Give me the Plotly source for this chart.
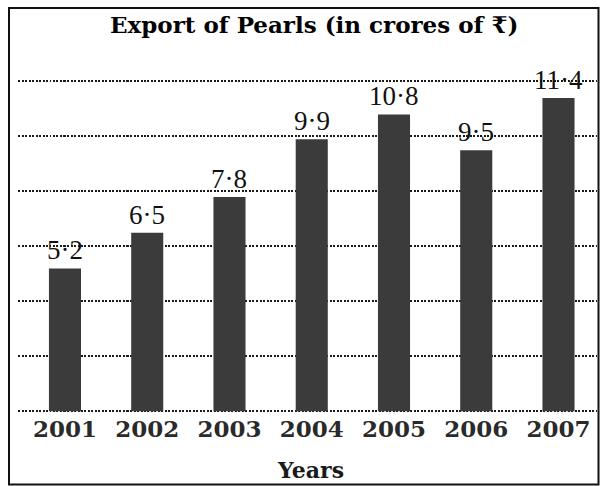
import plotly.graph_objects as go

# ---- data ----
years = [2001, 2002, 2003, 2004, 2005, 2006, 2007]
year_labels = ["2001", "2002", "2003", "2004", "2005", "2006", "2007"]
exports = [5.2, 6.5, 7.8, 9.9, 10.8, 9.5, 11.4]
value_labels = ["5·2", "6·5", "7·8", "9·9", "10·8", "9·5", "11·4"]
grid_vals = [0, 2, 4, 6, 8, 10, 12]
title_text = "Export of Pearls (in crores of ₹)"
xaxis_title = "Years"

W, H = 602, 486
L, R, T, B = 18, 5, 54, 73.35
pw, ph = W - L - R, H - T - B

def px_x(p):
    return (p - L) / pw

def px_y(p):
    return (H - B - p) / ph

fig = go.Figure()
fig.add_trace(go.Bar(
    x=years, y=exports, width=0.39,
    marker=dict(color="#3b3b3b", line=dict(width=0)),
    hoverinfo="skip", showlegend=False,
))

for xv, yv, lab in zip(years, exports, value_labels):
    fig.add_annotation(x=xv, y=yv, text=lab, showarrow=False,
                       xanchor="center", yanchor="bottom", yshift=1,
                       font=dict(family="Liberation Serif", size=27, color="#111111"))

# title
fig.add_annotation(xref="paper", yref="paper", x=px_x(314), y=px_y(25),
                   text="<b>" + title_text + "</b>", showarrow=False,
                   xanchor="center", yanchor="middle",
                   font=dict(family="DejaVu Serif", size=23, color="#000000"))
# x axis title
fig.add_annotation(xref="paper", yref="paper", x=px_x(311), y=px_y(470),
                   text="<b>" + xaxis_title + "</b>", showarrow=False,
                   xanchor="center", yanchor="middle",
                   font=dict(family="DejaVu Serif", size=22, color="#1a1a1a"))

# border
fig.add_shape(type="rect", xref="paper", yref="paper",
              x0=px_x(9), x1=px_x(598.5), y0=px_y(484), y1=px_y(8),
              line=dict(color="#111111", width=2), fillcolor="rgba(0,0,0,0)", layer="above")

fig.update_layout(
    width=W, height=H,
    margin=dict(l=L, r=R, t=T, b=B),
    paper_bgcolor="white", plot_bgcolor="white",
    xaxis=dict(range=[2000.429, 2007.468], tickvals=years,
               ticktext=["<b>" + s + "</b>" for s in year_labels],
               showgrid=False, zeroline=False, showline=False,
               ticks="", ticklabelstandoff=0,
               tickfont=dict(family="DejaVu Serif", size=23, color="#2a2a2a"),
               fixedrange=True),
    yaxis=dict(range=[-0.06, 13], tickvals=grid_vals, showticklabels=False,
               showgrid=True, gridcolor="#1a1a1a", gridwidth=1.8, griddash="2px,1.5px",
               zeroline=False, showline=False, ticks="", fixedrange=True),
)

fig.write_html("out.html", config={"displayModeBar": False},
               post_script="document.body.style.margin='0';")
